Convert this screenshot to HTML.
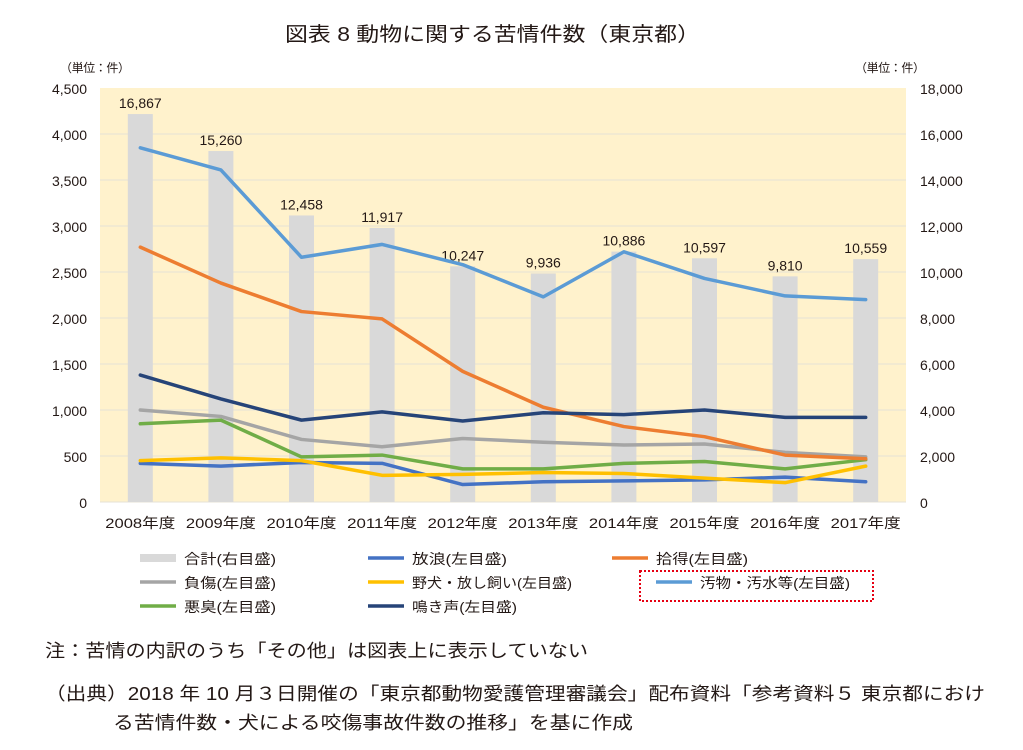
<!DOCTYPE html><html><head><meta charset="utf-8"><style>body{margin:0;background:#fff}svg{display:block}text{font-family:"Liberation Sans","Noto Sans CJK JP",sans-serif;fill:#231815}</style></head><body>
<svg width="1023" height="750" xmlns="http://www.w3.org/2000/svg">
<text x="285" y="41" font-size="20" textLength="415" lengthAdjust="spacingAndGlyphs">図表 8  動物に関する苦情件数（東京都）</text>
<text x="60" y="72" font-size="12" textLength="70">（単位：件）</text>
<text x="855" y="72" font-size="12" textLength="70">（単位：件）</text>
<rect x="100" y="88" width="806" height="414" fill="#fff2cc"/>
<g stroke="#e6e2d6" stroke-width="1">
<line x1="100" x2="906" y1="134" y2="134"/><line x1="100" x2="906" y1="180" y2="180"/><line x1="100" x2="906" y1="226" y2="226"/><line x1="100" x2="906" y1="272" y2="272"/><line x1="100" x2="906" y1="318" y2="318"/><line x1="100" x2="906" y1="364" y2="364"/><line x1="100" x2="906" y1="410" y2="410"/><line x1="100" x2="906" y1="456" y2="456"/><line x1="100" x2="906" y1="502" y2="502"/></g>
<g font-size="14" text-anchor="end">
<text x="87" y="94">4,500</text><text x="87" y="140">4,000</text><text x="87" y="186">3,500</text><text x="87" y="232">3,000</text><text x="87" y="278">2,500</text><text x="87" y="324">2,000</text><text x="87" y="370">1,500</text><text x="87" y="416">1,000</text><text x="87" y="462">500</text><text x="87" y="508">0</text></g>
<g font-size="14" text-anchor="start">
<text x="920" y="94">18,000</text><text x="920" y="140">16,000</text><text x="920" y="186">14,000</text><text x="920" y="232">12,000</text><text x="920" y="278">10,000</text><text x="920" y="324">8,000</text><text x="920" y="370">6,000</text><text x="920" y="416">4,000</text><text x="920" y="462">2,000</text><text x="920" y="508">0</text></g>
<g id="bars" fill="#d9d9d9"></g>
<g id="blab" font-size="14" text-anchor="middle"></g>
<g id="lines" fill="none" stroke-width="3.5" stroke-linejoin="round" stroke-linecap="round"></g>
<g id="xl" font-size="14" text-anchor="middle"></g>
<g font-size="14">
<rect x="140" y="554" width="36" height="8" fill="#d9d9d9"/><text x="184" y="564" textLength="92" lengthAdjust="spacingAndGlyphs">合計(右目盛)</text>
<line x1="368" x2="404" y1="558" y2="558" stroke="#4472c4" stroke-width="3.5"/><text x="412" y="564" textLength="95" lengthAdjust="spacingAndGlyphs">放浪(左目盛)</text>
<line x1="612" x2="648" y1="558" y2="558" stroke="#ed7d31" stroke-width="3.5"/><text x="656" y="564" textLength="92" lengthAdjust="spacingAndGlyphs">拾得(左目盛)</text>
<line x1="140" x2="176" y1="582" y2="582" stroke="#a5a5a5" stroke-width="3.5"/><text x="184" y="588" textLength="92" lengthAdjust="spacingAndGlyphs">負傷(左目盛)</text>
<line x1="368" x2="404" y1="582" y2="582" stroke="#ffc000" stroke-width="3.5"/><text x="412" y="588" textLength="160" lengthAdjust="spacingAndGlyphs">野犬・放し飼い(左目盛)</text>
<line x1="656" x2="692" y1="582" y2="582" stroke="#5b9bd5" stroke-width="3.5"/><text x="700" y="588" textLength="150" lengthAdjust="spacingAndGlyphs">汚物・汚水等(左目盛)</text>
<rect x="640" y="571" width="233" height="30" fill="none" stroke="#e60012" stroke-width="2" stroke-dasharray="2,2"/>
<line x1="140" x2="176" y1="606" y2="606" stroke="#70ad47" stroke-width="3.5"/><text x="184" y="612" textLength="92" lengthAdjust="spacingAndGlyphs">悪臭(左目盛)</text>
<line x1="368" x2="404" y1="606" y2="606" stroke="#264478" stroke-width="3.5"/><text x="412" y="612" textLength="105" lengthAdjust="spacingAndGlyphs">鳴き声(左目盛)</text>
</g>
<text x="45" y="657" font-size="18" textLength="543" lengthAdjust="spacingAndGlyphs">注：苦情の内訳のうち「その他」は図表上に表示していない</text>
<text x="45" y="700" font-size="18" textLength="940" lengthAdjust="spacingAndGlyphs">（出典）2018 年 10 月３日開催の「東京都動物愛護管理審議会」配布資料「参考資料５  東京都におけ</text>
<text x="113" y="729" font-size="18" textLength="520" lengthAdjust="spacingAndGlyphs">る苦情件数・犬による咬傷事故件数の推移」を基に作成</text>
</svg>
<script>
const ns="http://www.w3.org/2000/svg";
const tot=[16867,15260,12458,11917,10247,9936,10886,10597,9810,10559];
const X=i=>140.3+i*80.6, YL=v=>502-v*0.092, YR=v=>502-v*0.023;
const mk=(p,t,a)=>{const e=document.createElementNS(ns,t);for(const k in a)e.setAttribute(k,a[k]);p.appendChild(e);return e;};
const bars=document.getElementById('bars'),bl=document.getElementById('blab'),xl=document.getElementById('xl'),ln=document.getElementById('lines');
tot.forEach((v,i)=>{mk(bars,'rect',{x:X(i)-12.5,y:YR(v),width:25,height:502-YR(v)});
const t=mk(bl,'text',{x:X(i),y:YR(v)-6});t.textContent=v.toLocaleString('en-US');
const u=mk(xl,'text',{x:X(i),y:528,textLength:70,lengthAdjust:'spacingAndGlyphs'});u.textContent=(2008+i)+'年度';});
const S=[["#a5a5a5",[1000,930,680,600,690,650,620,630,540,490]],
["#70ad47",[850,890,490,510,360,360,420,440,360,460]],
["#4472c4",[420,390,430,420,190,220,230,240,270,220]],
["#ffc000",[450,480,450,290,300,320,310,260,210,390]],
["#ed7d31",[2770,2380,2070,1990,1420,1030,820,710,510,470]],
["#264478",[1380,1120,890,980,880,970,950,1000,920,920]],
["#5b9bd5",[3850,3610,2660,2800,2580,2230,2720,2430,2240,2200]]];
S.forEach(([c,d])=>mk(ln,'polyline',{stroke:c,points:d.map((v,i)=>X(i)+','+YL(v)).join(' ')}));
</script>
</body></html>
